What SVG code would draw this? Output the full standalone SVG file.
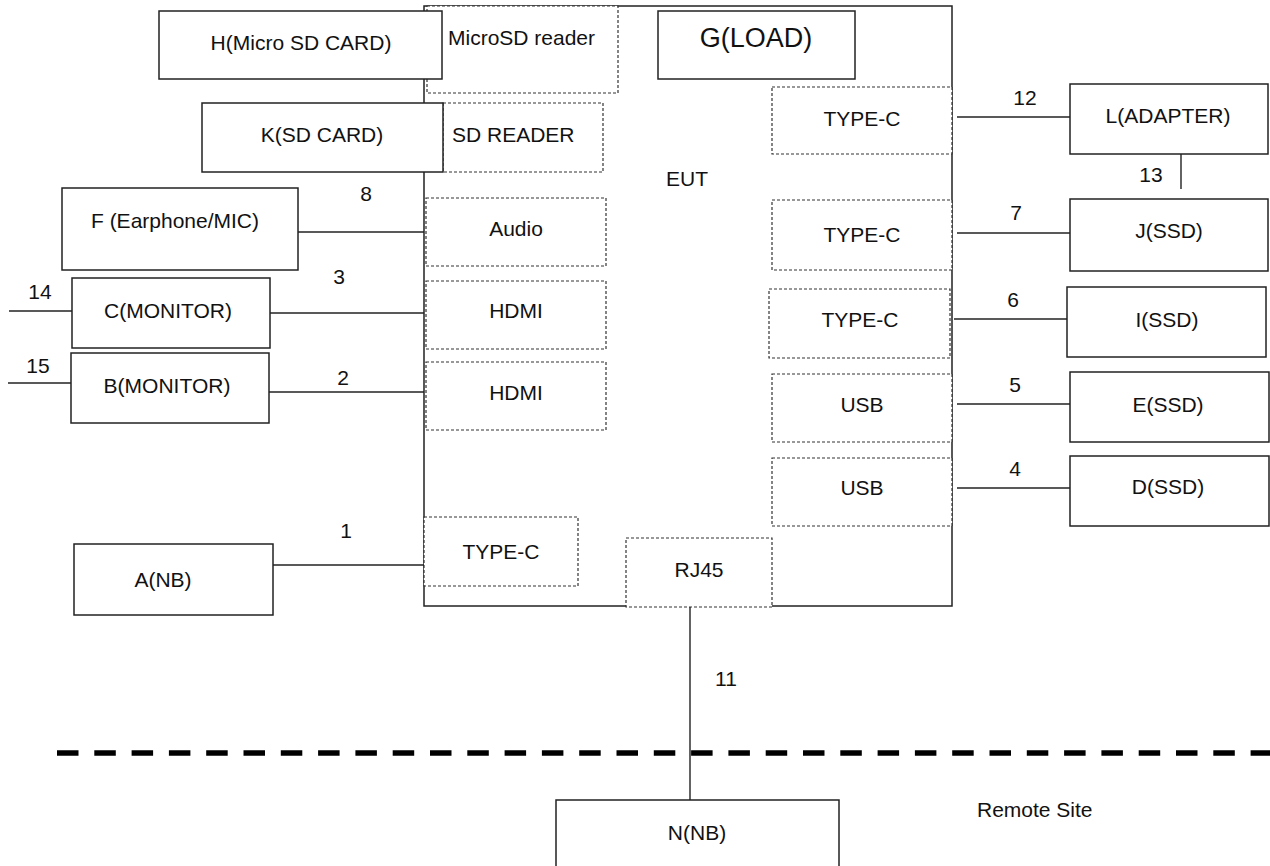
<svg xmlns="http://www.w3.org/2000/svg" width="1270" height="866" viewBox="0 0 1270 866">
<style>
.box{fill:#fff;stroke:#222;stroke-width:1.5}
.eut{fill:none;stroke:#222;stroke-width:1.5}
.port{fill:#fff;stroke:#333;stroke-width:1.2;stroke-dasharray:3 2}
.wire{stroke:#222;stroke-width:1.4;fill:none}
.sep{stroke:#000;stroke-width:5.5;stroke-dasharray:21.5 15.8;fill:none}
text{font-family:"Liberation Sans",Arial,sans-serif;font-size:21px;fill:#111}
.c{text-anchor:middle}
.big{font-size:27px}
</style>
<rect width="1270" height="866" fill="#fff"/>
<g id="EUT">
<rect class="eut" x="424" y="6" width="528" height="600"/>
<text x="666" y="186">EUT</text>
</g>
<g id="port-microsd"><rect class="port" x="427" y="6" width="191" height="87"/><text x="448" y="45">MicroSD reader</text></g>
<g id="port-sd"><rect class="port" x="443" y="103" width="160" height="69"/><text x="452" y="142">SD READER</text></g>
<g id="port-audio"><rect class="port" x="426" y="198" width="180" height="68"/><text class="c" x="516" y="236">Audio</text></g>
<g id="port-hdmi1"><rect class="port" x="426" y="281" width="180" height="68"/><text class="c" x="516" y="318">HDMI</text></g>
<g id="port-hdmi2"><rect class="port" x="426" y="362" width="180" height="68"/><text class="c" x="516" y="400">HDMI</text></g>
<g id="port-typec-a"><rect class="port" x="424" y="517" width="154" height="69"/><text class="c" x="501" y="559">TYPE-C</text></g>
<g id="port-rj45"><rect class="port" x="626" y="538" width="146" height="69"/><text class="c" x="699" y="577">RJ45</text></g>
<g id="port-typec-l"><rect class="port" x="772" y="87" width="180" height="67"/><text class="c" x="862" y="126">TYPE-C</text></g>
<g id="port-typec-j"><rect class="port" x="772" y="200" width="180" height="70"/><text class="c" x="862" y="242">TYPE-C</text></g>
<g id="port-typec-i"><rect class="port" x="769" y="289" width="181" height="69"/><text class="c" x="860" y="327">TYPE-C</text></g>
<g id="port-usb-e"><rect class="port" x="772" y="374" width="180" height="68"/><text class="c" x="862" y="412">USB</text></g>
<g id="port-usb-d"><rect class="port" x="772" y="458" width="180" height="68"/><text class="c" x="862" y="495">USB</text></g>
<g id="G"><rect class="box" x="658" y="11" width="197" height="68"/><text class="c big" x="756" y="47">G(LOAD)</text></g>
<g id="H"><rect class="box" x="159" y="11" width="283" height="68"/><text class="c" x="301" y="50">H(Micro SD CARD)</text></g>
<g id="K"><rect class="box" x="202" y="103" width="241" height="69"/><text class="c" x="322" y="142">K(SD CARD)</text></g>
<g id="F"><rect class="box" x="62" y="188" width="236" height="82"/><text class="c" x="175" y="228">F (Earphone/MIC)</text></g>
<g id="C"><rect class="box" x="72" y="278" width="198" height="70"/><text class="c" x="168" y="318">C(MONITOR)</text></g>
<g id="B"><rect class="box" x="71" y="353" width="198" height="70"/><text class="c" x="167" y="393">B(MONITOR)</text></g>
<g id="A"><rect class="box" x="74" y="544" width="199" height="71"/><text class="c" x="163" y="587">A(NB)</text></g>
<g id="L"><rect class="box" x="1070" y="84" width="198" height="70"/><text class="c" x="1168" y="123">L(ADAPTER)</text></g>
<g id="J"><rect class="box" x="1070" y="199" width="198" height="72"/><text class="c" x="1169" y="238">J(SSD)</text></g>
<g id="I"><rect class="box" x="1067" y="287" width="199" height="70"/><text class="c" x="1167" y="327">I(SSD)</text></g>
<g id="E"><rect class="box" x="1070" y="372" width="199" height="70"/><text class="c" x="1168" y="412">E(SSD)</text></g>
<g id="D"><rect class="box" x="1070" y="456" width="199" height="70"/><text class="c" x="1168" y="494">D(SSD)</text></g>
<g id="N"><rect class="box" x="556" y="800" width="283" height="80"/><text class="c" x="697" y="840">N(NB)</text></g>
<g id="connectors">
<line class="wire" x1="957" y1="117" x2="1070" y2="117"/>
<line class="wire" x1="1181" y1="154" x2="1181" y2="189"/>
<line class="wire" x1="957" y1="233" x2="1070" y2="233"/>
<line class="wire" x1="954" y1="319" x2="1067" y2="319"/>
<line class="wire" x1="957" y1="404" x2="1070" y2="404"/>
<line class="wire" x1="957" y1="488" x2="1070" y2="488"/>
<line class="wire" x1="298" y1="232" x2="424" y2="232"/>
<line class="wire" x1="270" y1="313" x2="424" y2="313"/>
<line class="wire" x1="269" y1="392" x2="424" y2="392"/>
<line class="wire" x1="9" y1="311" x2="72" y2="311"/>
<line class="wire" x1="8" y1="383" x2="71" y2="383"/>
<line class="wire" x1="273" y1="565" x2="424" y2="565"/>
<line class="wire" x1="690" y1="607" x2="690" y2="800"/>
<text class="c" x="1025" y="105">12</text>
<text class="c" x="1151" y="182">13</text>
<text class="c" x="1016" y="220">7</text>
<text class="c" x="1013" y="307">6</text>
<text class="c" x="1015" y="392">5</text>
<text class="c" x="1015" y="476">4</text>
<text class="c" x="366" y="201">8</text>
<text class="c" x="339" y="284">3</text>
<text class="c" x="343" y="385">2</text>
<text class="c" x="40" y="299">14</text>
<text class="c" x="38" y="373">15</text>
<text class="c" x="346" y="538">1</text>
<text class="c" x="726" y="686">11</text>
</g>
<line class="sep" x1="57" y1="753" x2="1270" y2="753"/>
<text x="977" y="817">Remote Site</text>
</svg>
